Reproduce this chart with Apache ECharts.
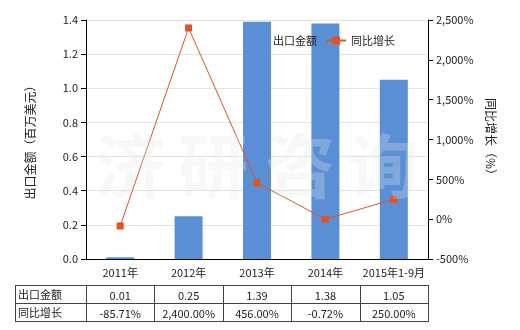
<!DOCTYPE html>
<html><head><meta charset="utf-8">
<script src="https://cdn.jsdelivr.net/npm/echarts@6/dist/echarts.min.js"></script>
<style>html,body{margin:0;padding:0;background:#fff}#c{width:520px;height:330px}</style>
</head><body><div id="c"></div>
<script>
const categories = ['2011年','2012年','2013年','2014年','2015年1-9月'];
const exportValues = [0.01, 0.25, 1.39, 1.38, 1.05];
const growthValues = [-85.71, 2400.00, 456.00, -0.72, 250.00];
const leftTicks = {min: 0, max: 1.4, interval: 0.2};
const rightTicks = {min: -500, max: 2500, interval: 500};
const seriesNames = ['出口金额', '同比增长'];
const watermarkChars = ['济', '研', '咨', '询'];

const FONT = '"Noto Sans CJK SC", "DejaVu Sans", sans-serif';
const G = {left: 86, right: 92, top: 20, bottom: 71};
const W = 520, H = 330;
const plotW = W - G.left - G.right;

function fmtNum(v, d){
  const s = Math.abs(v).toFixed(d).split('.');
  s[0] = s[0].replace(/\B(?=(\d{3})+(?!\d))/g, ',');
  return (v < 0 ? '-' : '') + s.join(d ? '.' : '');
}

const chart = echarts.init(document.getElementById('c'), null, {renderer: 'canvas'});

// table graphics
const tX0 = 15, tY = [285, 303, 321];
const colW = plotW / categories.length;
const graphics = [];
const lineStyle = {stroke: '#444', lineWidth: 1};
tY.forEach(y => graphics.push({type: 'line', shape: {x1: tX0, y1: y + 0.5, x2: G.left + plotW, y2: y + 0.5}, style: lineStyle, silent: true}));
const vx = [tX0, ...categories.map((c, i) => G.left + colW * i), G.left + plotW];
vx.forEach(x => graphics.push({type: 'line', shape: {x1: Math.round(x) + 0.5, y1: tY[0], x2: Math.round(x) + 0.5, y2: tY[2] + 1}, style: lineStyle, silent: true}));
const rows = [
  {label: seriesNames[0], vals: exportValues.map(v => fmtNum(v, 2))},
  {label: seriesNames[1], vals: growthValues.map(v => fmtNum(v, 2) + '%')}
];
rows.forEach((r, ri) => {
  const cy = (tY[ri] + tY[ri + 1]) / 2 + 1;
  graphics.push({type: 'text', x: tX0 + 3, y: cy, style: {text: r.label, fontSize: 11, fontFamily: FONT, fill: '#222', textVerticalAlign: 'middle', verticalAlign: 'middle'}, silent: true});
  r.vals.forEach((t, i) => {
    graphics.push({type: 'text', x: G.left + colW * (i + 0.5), y: cy + 1, style: {text: t, fontSize: 11, fontFamily: FONT, fill: '#222', align: 'center', textAlign: 'center', verticalAlign: 'middle', textVerticalAlign: 'middle'}, silent: true});
  });
});
// watermark
const wmX = [130, 213, 300, 383];
watermarkChars.forEach((ch, i) => {
  graphics.push({type: 'text', x: wmX[i], y: 166, z: 100, style: {text: ch, fontSize: 70, fontWeight: 'bold', fontFamily: FONT, fill: 'rgba(225,232,232,0.28)', align: 'center', textAlign: 'center', verticalAlign: 'middle', textVerticalAlign: 'middle'}, silent: true});
});

chart.setOption({
  animation: false,
  textStyle: {fontFamily: FONT},
  grid: G,
  legend: {
    data: [{name: seriesNames[0], icon: 'rect'}, seriesNames[1]],
    left: 243, top: 30, itemWidth: 20, itemHeight: 10, itemGap: 8,
    textStyle: {fontSize: 11, color: '#222', fontFamily: FONT}
  },
  xAxis: {
    type: 'category', data: categories,
    axisLine: {lineStyle: {color: '#000'}},
    axisTick: {alignWithLabel: true, lineStyle: {color: '#000'}},
    axisLabel: {fontSize: 11, color: '#222', margin: 8, interval: 0}
  },
  yAxis: [{
    type: 'value', min: leftTicks.min, max: leftTicks.max, interval: leftTicks.interval,
    name: '出口金额（百万美元）', nameLocation: 'middle', nameGap: 50,
    nameTextStyle: {fontSize: 12, color: '#222'},
    axisLine: {show: true, lineStyle: {color: '#000'}},
    axisTick: {show: true, lineStyle: {color: '#000'}},
    axisLabel: {fontSize: 11, color: '#222', formatter: v => v.toFixed(1)},
    splitLine: {lineStyle: {color: '#e4e4e4'}}
  }, {
    type: 'value', min: rightTicks.min, max: rightTicks.max, interval: rightTicks.interval,
    name: '同比增长（%）', nameLocation: 'middle', nameGap: 56, nameRotate: -90,
    nameTextStyle: {fontSize: 12, color: '#222'},
    axisLine: {show: true, lineStyle: {color: '#000'}},
    axisTick: {show: true, lineStyle: {color: '#000'}},
    axisLabel: {fontSize: 11, color: '#222', formatter: v => fmtNum(v, 0) + '%'},
    splitLine: {show: false}
  }],
  series: [{
    name: seriesNames[0], type: 'bar', data: exportValues, barWidth: 28,
    itemStyle: {color: '#5a8fd5'}
  }, {
    name: seriesNames[1], type: 'line', yAxisIndex: 1, data: growthValues,
    symbol: 'rect', symbolSize: 7,
    itemStyle: {color: '#e05322'}, lineStyle: {color: '#e05322', width: 1}
  }],
  graphic: graphics
});
</script></body></html>
